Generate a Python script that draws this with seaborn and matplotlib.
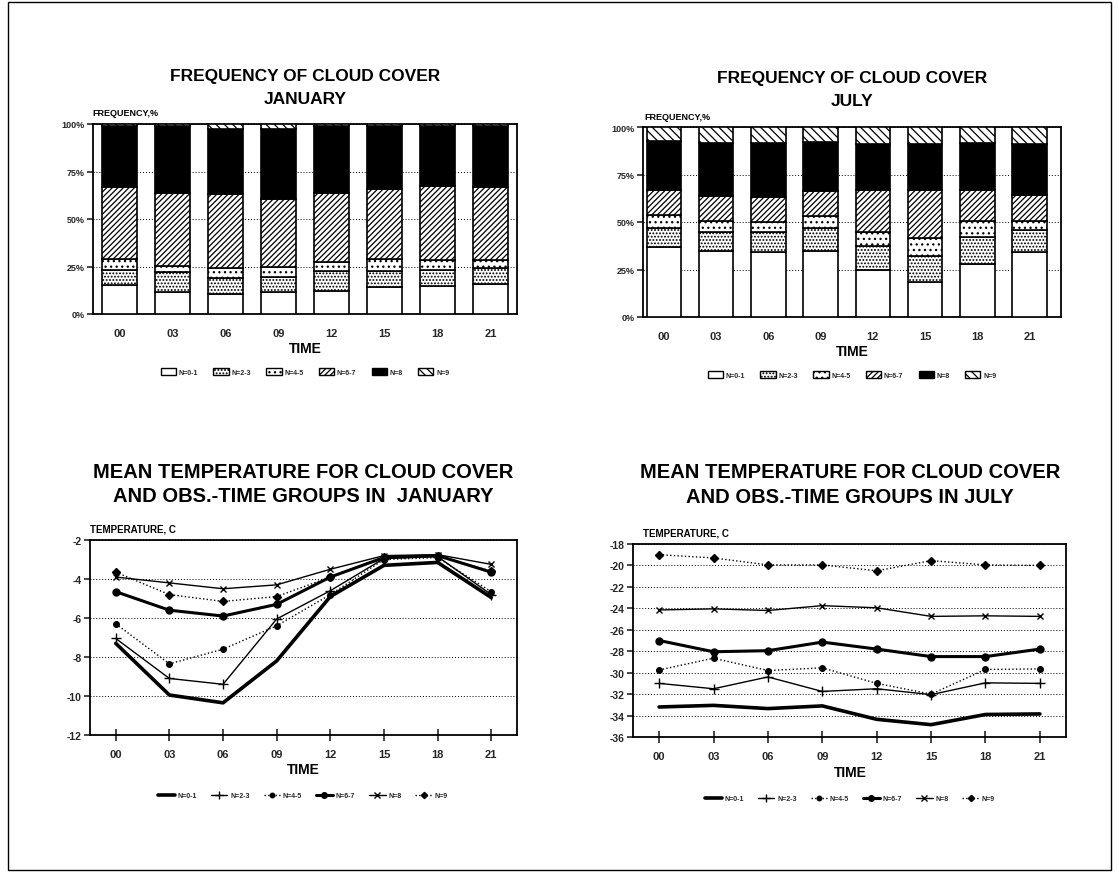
import numpy as np
import pandas as pd
import matplotlib
matplotlib.use("Agg")
import matplotlib.pyplot as plt
import seaborn as sns
from matplotlib.patches import Rectangle, Patch
from matplotlib.lines import Line2D

# ---------------- data ----------------
times = ["00", "03", "06", "09", "12", "15", "18", "21"]
groups = ["N=0-1", "N=2-3", "N=4-5", "N=6-7", "N=8", "N=9"]

# frequency of cloud cover, % (January)
jan_n01 = [15.3, 11.8, 10.5, 11.8, 12.3, 14.0, 14.9, 15.8]
jan_n23 = [7.9, 10.1, 8.3, 7.5, 10.2, 8.5, 8.3, 8.2]
jan_n45 = [5.7, 3.5, 5.4, 5.3, 4.7, 6.4, 5.2, 4.6]
jan_n67 = [38.1, 38.3, 39.0, 35.9, 36.5, 36.9, 39.1, 38.1]
jan_n8 = [31.9, 35.1, 34.2, 36.9, 35.1, 33.0, 31.3, 32.1]
jan_n9 = [1.1, 1.2, 2.6, 2.6, 1.2, 1.2, 1.2, 1.2]

# frequency of cloud cover, % (July)
jul_n01 = [36.8, 34.6, 34.2, 34.6, 24.6, 18.4, 27.7, 34.2]
jul_n23 = [10.2, 10.1, 10.5, 12.4, 12.8, 13.7, 14.4, 11.4]
jul_n45 = [6.5, 5.8, 5.3, 6.0, 7.3, 9.5, 8.4, 4.9]
jul_n67 = [13.2, 13.0, 13.2, 13.1, 22.0, 25.1, 16.5, 13.5]
jul_n8 = [25.9, 28.1, 28.4, 26.0, 24.2, 24.5, 24.6, 26.9]
jul_n9 = [7.4, 8.4, 8.4, 7.9, 9.1, 8.8, 8.4, 9.1]

# mean temperature, C (January)
jan_t01 = [-7.3, -9.95, -10.35, -8.2, -4.9, -3.3, -3.15, -4.95]
jan_t23 = [-7.05, -9.1, -9.4, -6.05, -4.6, -2.95, -2.85, -4.8]
jan_t45 = [-6.3, -8.35, -7.6, -6.4, -4.8, -3.0, -2.9, -4.65]
jan_t67 = [-4.65, -5.6, -5.9, -5.3, -3.9, -2.9, -2.8, -3.65]
jan_t8 = [-3.9, -4.2, -4.5, -4.3, -3.5, -2.8, -2.75, -3.25]
jan_t9 = [-3.65, -4.8, -5.15, -4.9, -3.9, -2.85, -2.8, -3.6]

# mean temperature, C (July)
jul_t01 = [-33.2, -33.05, -33.35, -33.1, -34.35, -34.85, -33.9, -33.85]
jul_t23 = [-31.0, -31.5, -30.4, -31.75, -31.5, -32.05, -30.95, -31.0]
jul_t45 = [-29.75, -28.65, -29.8, -29.55, -31.0, -32.0, -29.7, -29.65]
jul_t67 = [-27.0, -28.05, -27.95, -27.15, -27.8, -28.5, -28.5, -27.8]
jul_t8 = [-24.15, -24.05, -24.2, -23.75, -23.95, -24.75, -24.7, -24.75]
jul_t9 = [-19.0, -19.3, -19.95, -19.95, -20.5, -19.55, -19.95, -20.0]

jan_freq = [jan_n01, jan_n23, jan_n45, jan_n67, jan_n8, jan_n9]
jul_freq = [jul_n01, jul_n23, jul_n45, jul_n67, jul_n8, jul_n9]
jan_temp = [jan_t01, jan_t23, jan_t45, jan_t67, jan_t8, jan_t9]
jul_temp = [jul_t01, jul_t23, jul_t45, jul_t67, jul_t8, jul_t9]

# ---------------- style ----------------
sns.set_theme(style="white")
plt.rcParams["font.family"] = ["Liberation Sans", "DejaVu Sans"]
plt.rcParams["font.weight"] = "bold"
plt.rcParams["hatch.linewidth"] = 0.9
plt.rcParams["axes.edgecolor"] = "black"

W, H = 1119, 878
fig = plt.figure(figsize=(W / 100, H / 100), dpi=100)
fig.patch.set_facecolor("white")


def px(x, y):
    return x / W, 1 - y / H


def axes_px(x0, y0, x1, y1):
    return fig.add_axes([x0 / W, 1 - y1 / H, (x1 - x0) / W, (y1 - y0) / H])


def ftext(x, y, s, size, ha="center", va="center"):
    fig.text(*px(x, y), s, fontsize=size, fontweight="bold", ha=ha, va=va, color="black")


# page frame
fig.patches.append(Rectangle(px(8, 871), (1111 - 8) / W, (871 - 3) / H,
                             transform=fig.transFigure, fill=False,
                             edgecolor="black", linewidth=1.0))

bar_styles = [
    dict(color="white", hatch=None),
    dict(color="white", hatch="....."),
    dict(color="white", hatch="..."),
    dict(color="white", hatch="//////"),
    dict(color="black", hatch=None),
    dict(color="white", hatch="\\\\\\\\"),
]

line_styles = [
    dict(linestyle="-", linewidth=2.6, marker=None, markersize=0),
    dict(linestyle="-", linewidth=1.0, marker="+", markersize=7),
    dict(linestyle=":", linewidth=1.0, marker="o", markersize=4),
    dict(linestyle="-", linewidth=2.2, marker="o", markersize=5),
    dict(linestyle="-", linewidth=1.0, marker="x", markersize=5),
    dict(linestyle=":", linewidth=1.0, marker="D", markersize=4),
]


def style_axes(ax):
    for sp in ax.spines.values():
        sp.set_visible(True)
        sp.set_color("black")
        sp.set_linewidth(1.3)
    ax.set_xlabel("")
    ax.set_ylabel("")
    ax.grid(False)
    ax.yaxis.grid(True, color="black", linestyle=(0, (1, 2)), linewidth=0.7)
    ax.set_axisbelow(True)


def freq_panel(ax, data, xlim):
    bottom = np.zeros(len(times))
    for vals, st in zip(data, bar_styles):
        sns.barplot(x=times, y=vals, bottom=bottom, ax=ax, color=st["color"],
                    saturation=1, edgecolor="black", linewidth=1.2,
                    hatch=st["hatch"], width=0.66, zorder=3)
        bottom = bottom + np.array(vals)
    style_axes(ax)
    ax.set_ylim(0, 100)
    ax.set_xlim(*xlim)
    ax.set_yticks([0, 25, 50, 75, 100])
    ax.set_yticklabels(["0%", "25%", "50%", "75%", "100%"])
    ax.tick_params(axis="y", direction="out", length=4, width=1.2, labelsize=6.5, pad=2, left=True)
    ax.tick_params(axis="x", direction="in", length=3, width=1.2, labelsize=8, pad=10, bottom=True)
    for lab in ax.get_xticklabels() + ax.get_yticklabels():
        lab.set_fontweight("bold")


def temp_panel(ax, data, ylim, yticks):
    x = np.arange(len(times))
    for vals, st, name in zip(data, line_styles, groups):
        sns.lineplot(x=x, y=vals, ax=ax, color="black", label=name,
                     linestyle=st["linestyle"], linewidth=st["linewidth"],
                     marker=st["marker"], markersize=st["markersize"],
                     markeredgecolor="black", markerfacecolor="black",
                     markeredgewidth=1.0, legend=False)
    style_axes(ax)
    ax.set_xlim(-0.48, 7.48)
    ax.set_ylim(*ylim)
    ax.set_yticks(yticks)
    ax.set_yticklabels([f"{t:d}" for t in yticks])
    ax.set_xticks(x)
    ax.set_xticklabels(times)
    ax.tick_params(axis="y", direction="out", length=4, width=1.2, labelsize=7.5, pad=2, left=True)
    ax.tick_params(axis="x", direction="inout", length=8, width=1.2, labelsize=8, pad=6, bottom=True)
    for lab in ax.get_xticklabels() + ax.get_yticklabels():
        lab.set_fontweight("bold")


def bar_legend(cx, cy):
    handles = [Patch(facecolor=st["color"], edgecolor="black", hatch=st["hatch"], linewidth=1.0)
               for st in bar_styles]
    fig.legend(handles, groups, loc="center", bbox_to_anchor=px(cx, cy), ncol=6,
               frameon=False, handlelength=2.2, handleheight=1.1,
               columnspacing=2.2, handletextpad=0.4,
               prop=dict(weight="bold", size=5))


def line_legend(cx, cy):
    handles = [Line2D([], [], color="black", linestyle=st["linestyle"], linewidth=st["linewidth"],
                      marker=st["marker"], markersize=st["markersize"] * 0.8,
                      markerfacecolor="black", markeredgecolor="black")
               for st in line_styles]
    fig.legend(handles, groups, loc="center", bbox_to_anchor=px(cx, cy), ncol=6,
               frameon=False, handlelength=2.4, columnspacing=2.0, handletextpad=0.4,
               prop=dict(weight="bold", size=5))


# ---------------- top left: January frequency ----------------
ax1 = axes_px(93, 125, 517, 315)
freq_panel(ax1, jan_freq, (-0.5, 7.5))
ftext(305, 76, "FREQUENCY OF CLOUD COVER", 12.5)
ftext(305, 100, "JANUARY", 12.5)
ftext(92, 114, "FREQUENCY,%", 6.5, ha="left")
ftext(305, 349, "TIME", 10)
bar_legend(305, 373)

# ---------------- top right: July frequency ----------------
ax2 = axes_px(643, 128, 1061, 318)
freq_panel(ax2, jul_freq, (-0.4, 7.6))
ftext(852, 78, "FREQUENCY OF CLOUD COVER", 12.5)
ftext(852, 101, "JULY", 12.5)
ftext(644, 117, "FREQUENCY,%", 6.5, ha="left")
ftext(852, 352, "TIME", 10)
bar_legend(852, 376)

# ---------------- bottom left: January temperature ----------------
ax3 = axes_px(90, 541, 517, 736)
temp_panel(ax3, jan_temp, (-12, -2), [-12, -10, -8, -6, -4, -2])
ftext(303, 473, "MEAN TEMPERATURE FOR CLOUD COVER", 14.5)
ftext(303, 497, "AND OBS.-TIME GROUPS IN  JANUARY", 14.5)
ftext(90, 530, "TEMPERATURE, C", 7, ha="left")
ftext(303, 770, "TIME", 10)
line_legend(303, 797)

# ---------------- bottom right: July temperature ----------------
ax4 = axes_px(633, 545, 1066, 738)
temp_panel(ax4, jul_temp, (-36, -18), list(range(-36, -17, 2)))
ftext(850, 473, "MEAN TEMPERATURE FOR CLOUD COVER", 14.5)
ftext(850, 498, "AND OBS.-TIME GROUPS IN JULY", 14.5)
ftext(643, 533, "TEMPERATURE, C", 7, ha="left")
ftext(850, 773, "TIME", 10)
line_legend(850, 800)

fig.savefig("out.png", dpi=100, facecolor="white")
